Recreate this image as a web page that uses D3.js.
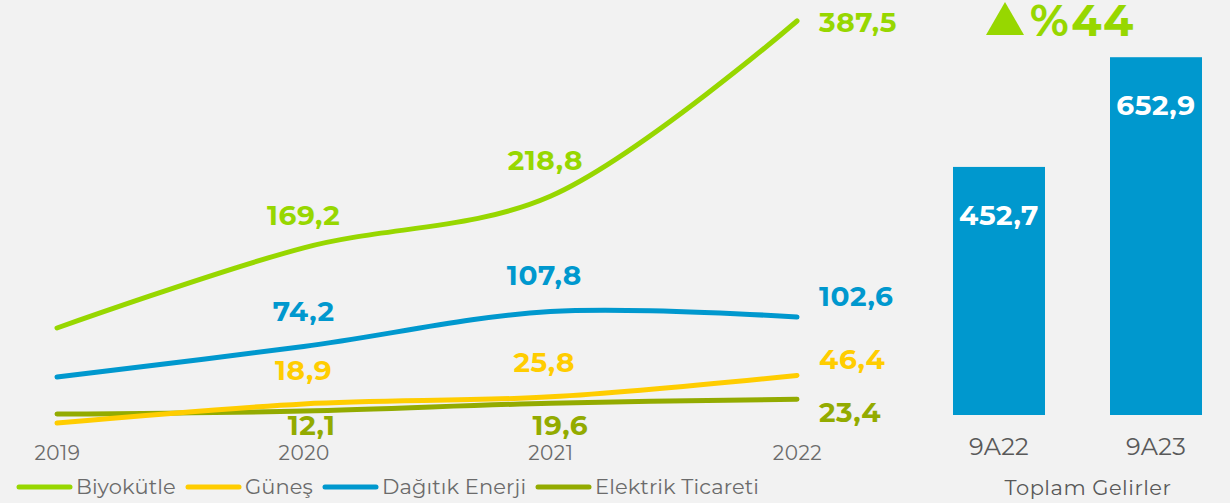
<!DOCTYPE html>
<html>
<head>
<meta charset="utf-8">
<script src="https://cdn.jsdelivr.net/npm/d3@7"></script>
<style>
  html, body { margin: 0; padding: 0; background: #f2f2f2; }
  svg { display: block; }
</style>
</head>
<body>
<svg id="chart" width="1230" height="503"></svg>
<script>
const years = ["2019", "2020", "2021", "2022"];
const seriesNames = ["Biyokütle", "Güneş", "Dağıtık Enerji", "Elektrik Ticareti"];
const biyokutle = [92, 169.2, 218.8, 387.5];
const gunes = [0.5, 18.9, 25.8, 46.4];
const dagitik = [44.8, 74.2, 107.8, 102.6];
const elektrik = [9.2, 12.1, 19.6, 23.4];
const seriesColors = ["#97d700", "#ffcd00", "#0098ce", "#93ab00"];

const barCategories = ["9A22", "9A23"];
const barValues = [452.7, 652.9];
const barTitle = "Toplam Gelirler";
const changeLabel = "%44";

const fmt = v => d3.format(".1f")(v).replace(".", ",");

const svg = d3.select("#chart");
const FONT = "Montserrat, 'Open Sans', sans-serif";

const x = d3.scalePoint().domain(years).range([57, 797]);
const y = d3.scaleLinear().domain([0, 400]).range([423.6, 8]);

const allSeries = [biyokutle, gunes, dagitik, elektrik];

const line = d3.line()
  .x((d, i) => x(years[i]))
  .y(d => y(d))
  .curve(d3.curveCatmullRom.alpha(0.5));

const drawOrder = [0, 2, 3, 1];
drawOrder.forEach(si => {
  svg.append("path")
    .attr("d", line(allSeries[si]))
    .attr("fill", "none")
    .attr("stroke", seriesColors[si])
    .attr("stroke-width", 5)
    .attr("stroke-linecap", "round");
});

// x axis labels
const xAxis = d3.axisBottom(x).tickSize(0).tickPadding(0);
const gx = svg.append("g").attr("transform", "translate(0,445)").call(xAxis);
gx.select(".domain").remove();
gx.selectAll("text")
  .attr("font-family", FONT)
  .attr("font-size", 20)
  .attr("letter-spacing", 0.5)
  .attr("fill", "#6b6b6b")
  .attr("dy", "0.35em")
  .attr("y", 8);

const labelOffsets = [
  [null, [0, -33], [-5, -36], [0, 1]],
  [null, [0, -34], [-6, -35], [0, -16]],
  [null, [0, -35], [-6, -36], [0, -21]],
  [null, [8, 14], [10, 22], [0, 13]]
];
allSeries.forEach((vals, si) => {
  vals.forEach((v, i) => {
    const off = labelOffsets[si][i];
    if (!off) return;
    const anchor = i === 3 ? "start" : "middle";
    const px = x(years[i]) + (i === 3 ? 22 : off[0]);
    const py = y(v) + off[1];
    svg.append("text")
      .attr("x", px)
      .attr("y", py)
      .attr("dy", "0.35em")
      .attr("text-anchor", anchor)
      .attr("font-family", FONT)
      .attr("font-weight", 700)
      .attr("font-size", 28)
      .attr("letter-spacing", 0.6)
      .attr("fill", seriesColors[si])
      .text(fmt(v));
  });
});

// legend
const legendX = [17, 186, 323, 536];
seriesNames.forEach((name, i) => {
  const g = svg.append("g").attr("transform", `translate(${legendX[i]},487)`);
  g.append("line")
    .attr("x1", 2).attr("x2", 53)
    .attr("y1", 0).attr("y2", 0)
    .attr("stroke", seriesColors[i])
    .attr("stroke-width", 5)
    .attr("stroke-linecap", "round");
  g.append("text")
    .attr("x", 59)
    .attr("y", 0)
    .attr("dy", "0.35em")
    .attr("font-family", FONT)
    .attr("font-size", 21)
    .attr("letter-spacing", 0.1)
    .attr("fill", "#6b6b6b")
    .text(name);
});

// bar chart
const xbPos = d3.scalePoint().domain(barCategories).range([999, 1156]);
const yb = d3.scaleLinear().domain([0, 700]).range([415, 31.4]);
const barW = 92;

barCategories.forEach((c, i) => {
  const cx = xbPos(c);
  svg.append("rect")
    .attr("x", cx - barW / 2)
    .attr("y", yb(barValues[i]))
    .attr("width", barW)
    .attr("height", yb(0) - yb(barValues[i]))
    .attr("fill", "#0098ce");
  svg.append("text")
    .attr("x", cx)
    .attr("y", yb(barValues[i]) + 48)
    .attr("dy", "0.35em")
    .attr("text-anchor", "middle")
    .attr("font-family", FONT)
    .attr("font-weight", 700)
    .attr("font-size", 28)
    .attr("letter-spacing", 0.6)
    .attr("fill", "#ffffff")
    .text(fmt(barValues[i]));
  svg.append("text")
    .attr("x", cx)
    .attr("y", 447)
    .attr("dy", "0.35em")
    .attr("text-anchor", "middle")
    .attr("font-family", FONT)
    .attr("font-size", 24)
    .attr("letter-spacing", 0.3)
    .attr("fill", "#595959")
    .text(c);
});

svg.append("text")
  .attr("x", 1088)
  .attr("y", 488)
  .attr("dy", "0.35em")
  .attr("text-anchor", "middle")
  .attr("font-family", FONT)
  .attr("font-size", 21)
  .attr("letter-spacing", 0.5)
  .attr("fill", "#595959")
  .text(barTitle);

// change indicator
svg.append("path")
  .attr("d", "M986,35 L1024,35 L1005,2 Z")
  .attr("fill", "#97d700");
svg.append("text")
  .attr("x", 1030)
  .attr("y", 36)
  .attr("font-family", FONT)
  .attr("font-weight", 700)
  .attr("font-size", 44)
  .attr("letter-spacing", 1.3)
  .attr("fill", "#97d700")
  .text(changeLabel);
</script>
</body>
</html>
